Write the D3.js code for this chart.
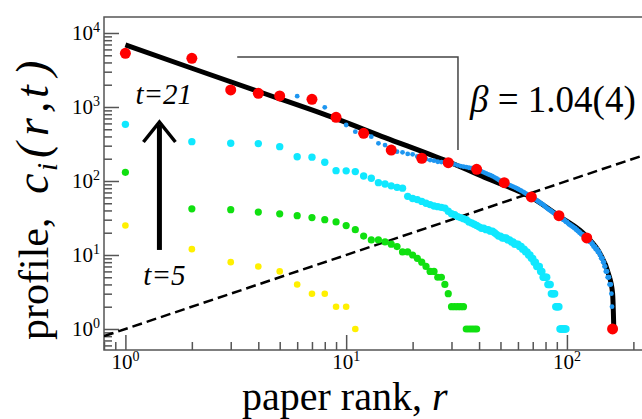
<!DOCTYPE html>
<html>
<head>
<meta charset="utf-8">
<script src="https://cdn.jsdelivr.net/npm/d3@7"></script>
<style>
  html, body { margin: 0; padding: 0; background: #fff; }
  svg { display: block; }
  text { font-family: "Liberation Serif", "Times New Roman", serif; fill: #000; }
</style>
</head>
<body>
<svg id="chart" width="642" height="419"></svg>
<script>
// Citation profiles c_i(r,t): citations of the paper of rank r, at successive times t.
// Element k of each array is the value at rank k+1.
const profileT5 = [25, 12, 8, 7, 6, 4, 3, 3, 2, 2, 1];

const profileMidEarly = [131, 42, 41, 38, 36, 34, 32, 30, 28, 25,
  22, 18, 16, 16, 15, 14, 13, 11, 11, 10,
  9, 8, 7, 6, 6, 5, 5, 4, 3, 2,
  2, 2, 2, 2, 1, 1, 1, 1, 1];

const profileMidLate = [583, 340, 323, 320, 291, 213, 210, 179, 138, 137,
  134, 117, 109, 95, 91, 86, 82, 80, 62, 58,
  56, 53, 50, 48, 46, 45, 44, 43, 39, 36,
  35, 33, 32, 31, 30, 28, 27, 26, 25, 24,
  23, 23, 22, 22, 21, 21, 20, 19, 18, 18,
  17, 17, 17, 16, 16, 15, 15, 14, 14, 14,
  13, 13, 12, 12, 11, 11, 10, 10, 9, 9,
  8, 8, 7, 7, 7, 6, 6, 5, 5, 5,
  5, 4, 4, 4, 3, 3, 3, 3, 2, 2,
  2, 2, 1, 1, 1, 1, 1, 1, 1];

const profileT21 = [5320, 4550, 1700, 1530, 1410, 1400, 1270, 990, 726, 571,
  464, 441, 397, 323, 306, 262, 249, 244, 232, 229,
  215, 203, 197, 192, 188, 182, 180, 178, 177, 172,
  168, 163, 159, 156, 154, 151, 149, 147, 144, 140,
  135, 131, 127, 123, 120, 116, 112, 108, 104, 100,
  97, 95, 93, 90, 88, 86, 84, 82, 80, 78,
  76, 74, 72, 70, 68, 66, 64, 63, 61, 59,
  58, 56, 55, 53, 52, 50, 49, 48, 46, 45,
  43, 42, 41, 40, 39, 38, 37, 36, 36, 35,
  34, 34, 33, 32, 31, 30, 30, 29, 28, 28,
  27, 26, 26, 25, 25, 24, 24, 23, 23, 22,
  22, 21, 21, 20, 20, 19, 19, 19, 18, 18,
  18, 17, 17, 16, 16, 16, 15, 15, 15, 14,
  14, 13, 13, 13, 12, 12, 12, 11, 11, 11,
  10, 10, 9, 9, 9, 8, 8, 7, 7, 6,
  6, 6, 5, 5, 5, 4, 4, 4, 3, 2,
  1];

// Ranks of the t=21 profile that are highlighted with large markers
const highlightRanks = [1, 2, 3, 4, 5, 7, 9, 12, 16, 22, 29, 39, 52, 69, 92, 123, 161];

// Fitted curve for t=21 (rank, value)
const fitRanks  = [1, 2, 4, 8.5, 15, 29, 45, 68, 93, 123, 141, 154, 161, 163];
const fitValues = [6890, 3340, 1620, 739, 386, 182, 104, 61.4, 32.9, 17.7, 10.5, 5.66, 3.04, 1.07];

// Reference line c = r
const diagRanks = [0.8, 264];

// Slope guide (rank span and value span)
const guideRanks = [3.21, 32.1];
const guideValues = [4740, 262];

// Axis ticks
const xMajorTicks = [1, 10, 100];
const xTickExponents = ["0", "1", "2"];
const yMajorTicks = [1, 10, 100, 1000, 10000];
const yTickExponents = ["0", "1", "2", "3", "4"];

const fitLabel = "1.04(4)";

const svg = d3.select("#chart");
const plotLeft = 104, plotRight = 660, plotTop = 17, plotBottom = 350;

const x = d3.scaleLog().domain([0.8, 264]).range([plotLeft, plotRight]);
const y = d3.scaleLog().domain([0.52, 16450]).range([plotBottom, plotTop]);

const frameColor = "#555";

// minor tick positions for each decade
function minorTicks(lo, hi) {
  const out = [];
  for (let d = -1; d <= 4; d++) {
    for (let m = 2; m <= 9; m++) {
      const v = m * Math.pow(10, d);
      if (v >= lo && v <= hi) out.push(v);
    }
  }
  return out;
}

const plot = svg.append("g");

// frame
plot.append("rect")
  .attr("x", plotLeft).attr("y", plotTop)
  .attr("width", plotRight - plotLeft).attr("height", plotBottom - plotTop)
  .attr("fill", "none").attr("stroke", frameColor).attr("stroke-width", 1.5);

// axes with inward ticks
function styleAxis(g) {
  g.select(".domain").remove();
  g.selectAll(".tick line").attr("stroke", frameColor).attr("stroke-width", 1.5);
}
plot.append("g").attr("transform", `translate(0,${plotBottom})`)
  .call(d3.axisBottom(x).tickValues(xMajorTicks).tickSize(-15).tickFormat(""))
  .call(styleAxis);
plot.append("g").attr("transform", `translate(0,${plotBottom})`)
  .call(d3.axisBottom(x).tickValues(minorTicks(0.8, 264)).tickSize(-8).tickFormat(""))
  .call(styleAxis);
plot.append("g").attr("transform", `translate(${plotLeft},0)`)
  .call(d3.axisLeft(y).tickValues(yMajorTicks).tickSize(-15).tickFormat(""))
  .call(styleAxis);
plot.append("g").attr("transform", `translate(${plotLeft},0)`)
  .call(d3.axisLeft(y).tickValues(minorTicks(0.52, 16450)).tickSize(-8).tickFormat(""))
  .call(styleAxis);

// tick labels as powers of ten
xMajorTicks.forEach((v, i) => {
  const t = svg.append("text")
    .attr("x", x(v)).attr("y", 369)
    .attr("text-anchor", "middle").attr("font-size", 21);
  t.append("tspan").text("10");
  t.append("tspan").attr("font-size", 14).attr("dy", -8).text(xTickExponents[i]);
});
yMajorTicks.forEach((v, i) => {
  const t = svg.append("text")
    .attr("x", 100).attr("y", y(v) + 7.5)
    .attr("text-anchor", "end").attr("font-size", 21);
  t.append("tspan").text("10");
  t.append("tspan").attr("font-size", 14).attr("dy", -8).text(yTickExponents[i]);
});

// axis titles
const xt = svg.append("text").attr("x", 242).attr("y", 410).attr("font-size", 40);
xt.append("tspan").text("paper rank, ");
xt.append("tspan").attr("font-style", "italic").text("r");

const yt = svg.append("text").attr("transform", "translate(48,340) rotate(-90)").attr("font-size", 42);
yt.append("tspan").text("profile,");
yt.append("tspan").attr("x", 146).attr("font-size", 46).attr("font-style", "italic").text("c");
yt.append("tspan").attr("x", 169).attr("dy", 9).attr("font-size", 29).attr("font-style", "italic").text("i");
yt.append("tspan").attr("x", 182).attr("dy", -9).attr("font-size", 46).attr("font-style", "italic").text("(");
yt.append("tspan").attr("x", 204).attr("font-size", 46).attr("font-style", "italic").text("r");
yt.append("tspan").attr("x", 227).attr("font-size", 46).attr("font-style", "italic").text(",");
yt.append("tspan").attr("x", 242).attr("font-size", 46).attr("font-style", "italic").text("t");
yt.append("tspan").attr("x", 264).attr("font-size", 46).attr("font-style", "italic").text(")");

// clip the data region
svg.append("clipPath").attr("id", "plot-area")
  .append("rect").attr("x", plotLeft).attr("y", plotTop)
  .attr("width", plotRight - plotLeft).attr("height", plotBottom - plotTop);
const data = svg.append("g").attr("clip-path", "url(#plot-area)");

// c = r reference line
data.append("path")
  .attr("d", d3.line().x(d => x(d)).y(d => y(d))(diagRanks))
  .attr("fill", "none").attr("stroke", "#000").attr("stroke-width", 2.5)
  .attr("stroke-dasharray", "10,5");

// slope guide
data.append("path")
  .attr("d", d3.line()([[x(guideRanks[0]), y(guideValues[0])], [x(guideRanks[1]), y(guideValues[0])], [x(guideRanks[1]), y(guideValues[1])]]))
  .attr("fill", "none").attr("stroke", "#444").attr("stroke-width", 1.5);

function drawProfile(values, color, radius) {
  data.append("g").selectAll("circle")
    .data(values)
    .join("circle")
    .attr("cx", (d, i) => x(i + 1))
    .attr("cy", d => y(d))
    .attr("r", radius)
    .attr("fill", color);
}

drawProfile(profileT5, "#fff000", 3.3);
drawProfile(profileMidEarly, "#10e010", 3.6);
drawProfile(profileMidLate, "#10e8ff", 3.7);

// fitted curve
data.append("path")
  .datum(fitRanks.map((r, i) => [r, fitValues[i]]))
  .attr("d", d3.line().x(d => x(d[0])).y(d => y(d[1])).curve(d3.curveMonotoneX))
  .attr("fill", "none").attr("stroke", "#000").attr("stroke-width", 5);

drawProfile(profileT21, "#1e96f0", 2.4);

// highlighted ranks of the t=21 profile
data.append("g").selectAll("circle")
  .data(highlightRanks)
  .join("circle")
  .attr("cx", r => x(r))
  .attr("cy", r => y(profileT21[r - 1]))
  .attr("r", 5.5)
  .attr("fill", "#ff0000");

// time arrow from t=5 to t=21
const arrowX = x(1.426), arrowTip = y(627), arrowTail = y(11.7);
svg.append("line")
  .attr("x1", arrowX).attr("x2", arrowX)
  .attr("y1", arrowTail).attr("y2", arrowTip + 3)
  .attr("stroke", "#000").attr("stroke-width", 5);
svg.append("path")
  .attr("d", `M${arrowX - 16},${arrowTip + 20} L${arrowX},${arrowTip} L${arrowX + 16},${arrowTip + 20}`)
  .attr("fill", "none").attr("stroke", "#000").attr("stroke-width", 3.5);

svg.append("text").attr("x", x(1.11)).attr("y", y(1097))
  .attr("font-size", 29).attr("font-style", "italic").text("t=21");
svg.append("text").attr("x", x(1.206)).attr("y", y(3.93))
  .attr("font-size", 29).attr("font-style", "italic").text("t=5");

const bt = svg.append("text").attr("x", x(36.4)).attr("y", y(856)).attr("font-size", 37);
bt.append("tspan").attr("font-style", "italic").text("β");
bt.append("tspan").text(" = " + fitLabel);
</script>
</body>
</html>
